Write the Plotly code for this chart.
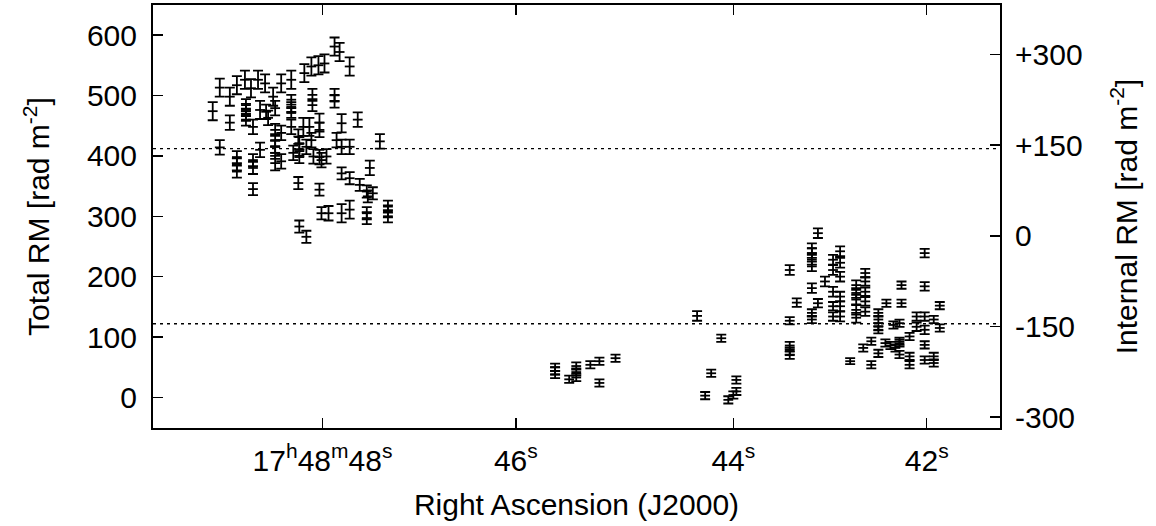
import plotly.graph_objects as go

# Right ascension (seconds of 17h48m), total RM [rad m^-2], RM error
ra_s = [
    49.09, 49.02, 49.02, 48.92, 48.92, 48.85, 48.85, 48.85, 48.85, 48.77,
    48.76, 48.76, 48.76, 48.76, 48.71, 48.69, 48.69, 48.69, 48.69, 48.64,
    48.62, 48.62, 48.57, 48.56, 48.54, 48.49, 48.47, 48.47, 48.47, 48.47,
    48.47, 48.47, 48.41, 48.41, 48.41, 48.31, 48.31, 48.31, 48.31, 48.31,
    48.29, 48.24, 48.23, 48.23, 48.23, 48.24, 48.23, 48.16, 48.19, 48.18,
    48.16, 48.11, 48.10, 48.10, 48.13, 48.11, 48.09, 48.04, 48.03, 48.03,
    48.03, 48.01, 48.03, 48.01, 47.98, 47.96, 47.94, 47.88, 47.88, 47.88,
    47.86, 47.83, 47.81, 47.81, 47.81, 47.81, 47.73, 47.73, 47.73, 47.73,
    47.65, 47.63, 47.56, 47.55, 47.53, 47.56, 47.56, 47.50, 47.43, 47.35,
    47.35, 47.35,
    45.69, 45.69, 45.69, 45.55, 45.48, 45.48, 45.48, 45.34, 45.25, 45.25,
    45.09, 44.28, 44.20, 44.14, 44.04, 43.97, 43.89, 43.89, 43.92,
    43.36, 43.36, 43.36, 43.36, 43.36, 43.29, 43.14, 43.14, 43.14, 43.14,
    43.14, 43.14, 43.14, 43.08, 43.08, 43.01, 42.93, 42.93, 42.93, 42.93,
    42.93, 42.86, 42.86, 42.86, 42.86, 42.86, 42.86, 42.76, 42.70, 42.70,
    42.70, 42.70, 42.70, 42.61, 42.61, 42.61, 42.61, 42.61, 42.63, 42.55,
    42.55, 42.48, 42.48, 42.48, 42.48, 42.48, 42.40, 42.41, 42.36, 42.31,
    42.27, 42.33, 42.25, 42.25, 42.27, 42.27, 42.27, 42.17, 42.17, 42.17,
    42.10, 42.10, 42.02, 42.02, 42.02, 42.02, 42.02, 42.02, 41.93, 41.93,
    41.93, 41.87, 41.87,
]
rm_total = [
    474, 513, 414, 498, 455, 517, 398, 386, 374, 526,
    484, 476, 468, 460, 512, 393, 380, 345, 448, 526,
    476, 410, 520, 473, 463, 498, 479, 443, 426, 415,
    405, 388, 520, 438, 391, 526, 493, 481, 471, 448,
    405, 432, 421, 410, 398, 355, 283, 266, 448, 537,
    415, 548, 501, 484, 448, 426, 399, 550, 455, 443,
    398, 393, 344, 305, 553, 399, 305, 581, 501, 490,
    426, 572, 454, 415, 371, 305, 548, 415, 363, 311,
    460, 352, 341, 333, 380, 305, 297, 338, 424, 316,
    308, 300,
    50, 44, 38, 30, 52, 42, 33, 54, 60, 24,
    65, 135, 3, 40, 98, -4, 29, 10, 4,
    211, 127, 86, 77, 70, 157, 247, 239, 228, 217,
    181, 140, 129, 272, 156, 192, 228, 211, 175, 151,
    134, 242, 223, 200, 167, 151, 134, 60, 186, 173,
    162, 145, 132, 206, 192, 175, 159, 142, 82, 93,
    54, 140, 129, 117, 112, 73, 156, 90, 86, 82,
    90, 120, 186, 156, 123, 93, 71, 101, 68, 54,
    134, 117, 239, 184, 134, 112, 87, 62, 129, 68,
    57, 152, 115,
]
rm_err = [
    15, 15, 12, 15, 12, 15, 10, 10, 10, 15,
    10, 10, 10, 10, 15, 10, 10, 10, 12, 15,
    15, 12, 15, 12, 12, 15, 12, 10, 10, 10,
    10, 12, 15, 12, 12, 15, 8, 8, 8, 12,
    12, 12, 10, 10, 10, 10, 10, 10, 15, 15,
    12, 15, 10, 10, 15, 12, 12, 15, 15, 12,
    12, 12, 10, 10, 15, 12, 12, 15, 10, 10,
    12, 15, 15, 12, 10, 15, 15, 12, 10, 15,
    12, 10, 10, 10, 12, 10, 10, 10, 12, 10,
    10, 10,
    6, 6, 6, 6, 6, 6, 6, 6, 6, 6,
    6, 8, 6, 6, 6, 6, 6, 6, 6,
    8, 6, 6, 6, 6, 7, 8, 8, 8, 8,
    8, 6, 6, 8, 7, 8, 8, 8, 8, 7,
    7, 8, 8, 8, 8, 8, 8, 5, 8, 8,
    8, 8, 8, 7, 7, 7, 7, 7, 6, 6,
    6, 6, 6, 6, 6, 6, 6, 6, 6, 6,
    6, 6, 6, 6, 6, 6, 6, 6, 6, 6,
    7, 7, 7, 7, 7, 7, 6, 6, 6, 6,
    6, 6, 6,
]

# Axis ticks
x_tick_pos = [48.0, 46.08, 43.92, 42.0]
x_tick_text = ["17<sup>h</sup>48<sup>m</sup>48<sup>s</sup>", "46<sup>s</sup>",
               "44<sup>s</sup>", "42<sup>s</sup>"]
y_ticks = [0, 100, 200, 300, 400, 500, 600]
internal_ticks = [300, 150, 0, -150, -300]
internal_text = ["+300", "+150", "0", "-150", "-300"]
internal_offset = 267.6          # total RM corresponding to internal RM = 0
ref_lines_total = [412, 122]     # dotted reference lines (total RM)

x_range = [49.683, 41.272]
y_range = [-50.6, 649.8]

FONT = "Liberation Sans, Arial, sans-serif"
FS = 30

fig = go.Figure()
fig.add_trace(go.Scatter(
    x=ra_s, y=rm_total, mode="markers",
    marker=dict(symbol="line-ew", size=7, color="black",
                line=dict(color="black", width=1.8)),
    error_y=dict(type="data", array=rm_err, visible=True,
                 color="black", thickness=1.8, width=5),
    showlegend=False, hoverinfo="skip",
))
# invisible trace so the secondary axis is drawn
fig.add_trace(go.Scatter(
    x=[x_tick_pos[0]], y=[internal_ticks[2]], yaxis="y2", mode="markers",
    marker=dict(opacity=0), showlegend=False, hoverinfo="skip",
))

for yv in ref_lines_total:
    fig.add_shape(type="line", xref="paper", x0=0, x1=1, yref="y", y0=yv, y1=yv,
                  line=dict(color="black", width=1.4, dash="3px,4px"), layer="below")

fig.update_layout(
    width=1156, height=526,
    margin=dict(l=153, r=156, t=5, b=98),
    paper_bgcolor="white", plot_bgcolor="white",
    font=dict(family=FONT, size=FS, color="black"),
    hovermode=False,
    xaxis=dict(
        range=x_range, tickvals=x_tick_pos, ticktext=x_tick_text,
        ticks="inside", ticklen=10, tickwidth=1.5, tickcolor="black",
        showline=True, linewidth=2, linecolor="black", mirror="ticks",
        showgrid=False, zeroline=False, ticklabelstandoff=5,
        title=dict(text="Right Ascension (J2000)", standoff=18,
                   font=dict(family=FONT, size=FS)),
        automargin=False,
    ),
    yaxis=dict(
        range=y_range, tickvals=y_ticks,
        ticks="inside", ticklen=10, tickwidth=1.5, tickcolor="black",
        showline=True, linewidth=2, linecolor="black", mirror=True,
        showgrid=False, zeroline=False, ticklabelstandoff=8,
        title=dict(text="Total RM [rad m<sup>-2</sup>]", standoff=28,
                   font=dict(family=FONT, size=FS)),
        automargin=False,
    ),
    yaxis2=dict(
        overlaying="y", side="right",
        range=[y_range[0] - internal_offset, y_range[1] - internal_offset],
        tickvals=internal_ticks, ticktext=internal_text,
        ticks="inside", ticklen=10, tickwidth=1.5, tickcolor="black",
        showline=False, showgrid=False, zeroline=False, ticklabelstandoff=14,
        title=dict(text="Internal RM [rad m<sup>-2</sup>]", standoff=34,
                   font=dict(family=FONT, size=FS)),
        automargin=False,
    ),
)

fig.write_html("out.html",
               config={"displayModeBar": False, "staticPlot": True},
               post_script="document.body.style.margin='0px';document.body.style.overflow='hidden';")
